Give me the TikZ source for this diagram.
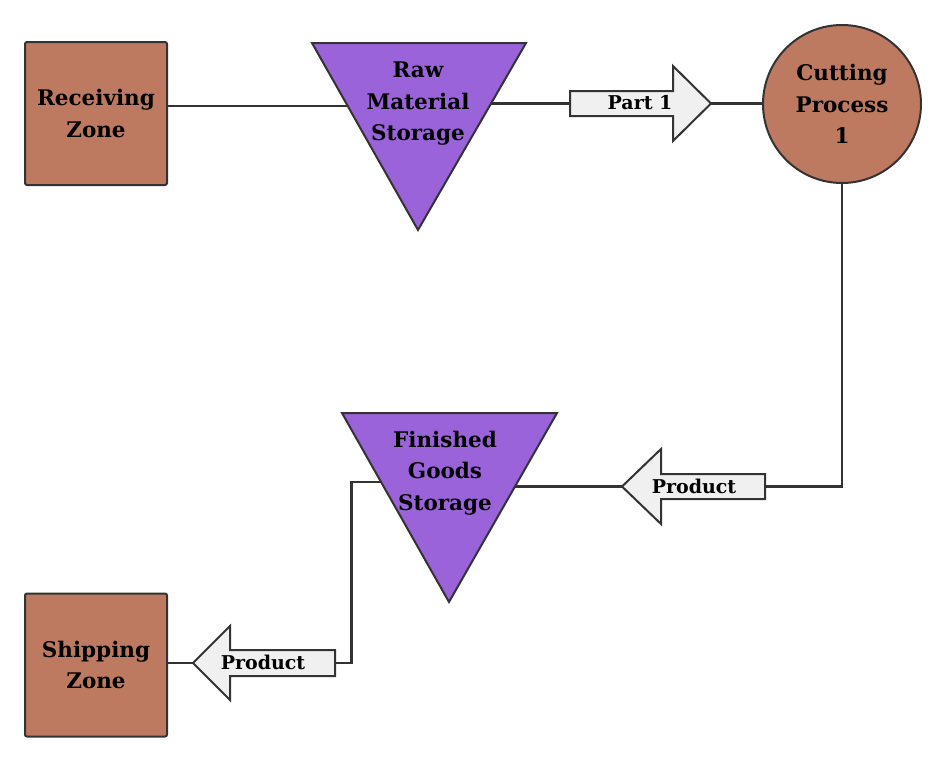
\documentclass[tikz,border=0pt]{standalone}
\usepackage{fontspec}
\setmainfont{DejaVu Serif}
\usetikzlibrary{backgrounds,calc}
\definecolor{brownfill}{HTML}{BD7A60}
\definecolor{purplefill}{HTML}{9A63DA}
\definecolor{edgecol}{HTML}{333333}
\definecolor{arrowfill}{HTML}{F0F0F0}
\begin{document}
\begin{tikzpicture}[x=1pt,y=-1pt,
  zone/.style={draw=edgecol, line width=2pt, fill=brownfill, rounded corners=2pt,
    minimum width=142pt, minimum height=143pt, inner sep=0pt, align=center,
    font=\bfseries\fontsize{21.5}{31.5}\selectfont},
  proc/.style={circle, draw=edgecol, line width=2pt, fill=brownfill,
    minimum size=158pt, inner sep=0pt, align=center,
    font=\bfseries\fontsize{21.5}{31.5}\selectfont},
  store/.style={draw=edgecol, line width=2pt, fill=purplefill, line join=miter},
  storetext/.style={align=center, inner sep=0pt, font=\bfseries\fontsize{21.5}{31.5}\selectfont},
  flowarrow/.style={draw=edgecol, line width=2pt, fill=arrowfill, line join=miter},
  arrowtext/.style={inner sep=0pt, font=\bfseries\fontsize{19}{22}\selectfont},
  conn/.style={draw=edgecol, line width=2.2pt}]
\useasboundingbox (0,0) rectangle (946,766);

% zones
\node[zone] (recv) at (96,113.5) {Receiving\\Zone};
\node[zone] (ship) at (96,665) {Shipping\\Zone};

% process
\node[proc] (cut) at (842,104) {Cutting\\Process\\1};

% storage triangles
\filldraw[store] (312,43) -- (526,43) -- (418,230) -- cycle;
\node[storetext] (raw) at (418,104) {Raw\\Material\\Storage};
\filldraw[store] (342,413) -- (557,413) -- (449,602) -- cycle;
\node[storetext] (fin) at (445,473) {Finished\\Goods\\Storage};

% flow arrows
\filldraw[flowarrow] (570,91) -- (673,91) -- (673,66) -- (711,103.5)
  -- (673,141) -- (673,116) -- (570,116) -- cycle;
\coordinate (p1tail) at (570,103.5);
\coordinate (p1tip) at (711,103.5);
\node[arrowtext] (p1) at (640,103) {Part 1};

\filldraw[flowarrow] (765,474) -- (661,474) -- (661,449) -- (622,486.5)
  -- (661,524) -- (661,499) -- (765,499) -- cycle;
\coordinate (p2tail) at (765,486.5);
\coordinate (p2tip) at (622,486.5);
\node[arrowtext] (p2) at (694,486) {Product};

\filldraw[flowarrow] (335,650) -- (230,650) -- (230,626) -- (193,663)
  -- (230,700) -- (230,676) -- (335,676) -- cycle;
\coordinate (p3tail) at (335,663);
\coordinate (p3tip) at (193,663);
\node[arrowtext] (p3) at (263,662) {Product};

% connectors
\begin{scope}[on background layer]
  \coordinate (recvout) at ($(recv.north east)!0.448!(recv.south east)$);
  \draw[conn] (recvout) -- (recvout -| raw);
  \draw[conn] (p1tail -| raw) -- (p1tail);
  \draw[conn] (p1tip) -- (p1tip -| cut.west);
  \draw[conn] (cut.south) -- (cut.south |- p2tail) -- (p2tail);
  \draw[conn] (p2tip) -- (p2tip -| fin);
  \coordinate (finout) at (fin.center |- 0,482);
  \draw[conn] (finout) -- (351.5,482) -- (351.5,663) -- (p3tail);
  \draw[conn] (p3tip) -- (p3tip -| ship.east);
\end{scope}
\end{tikzpicture}
\end{document}
